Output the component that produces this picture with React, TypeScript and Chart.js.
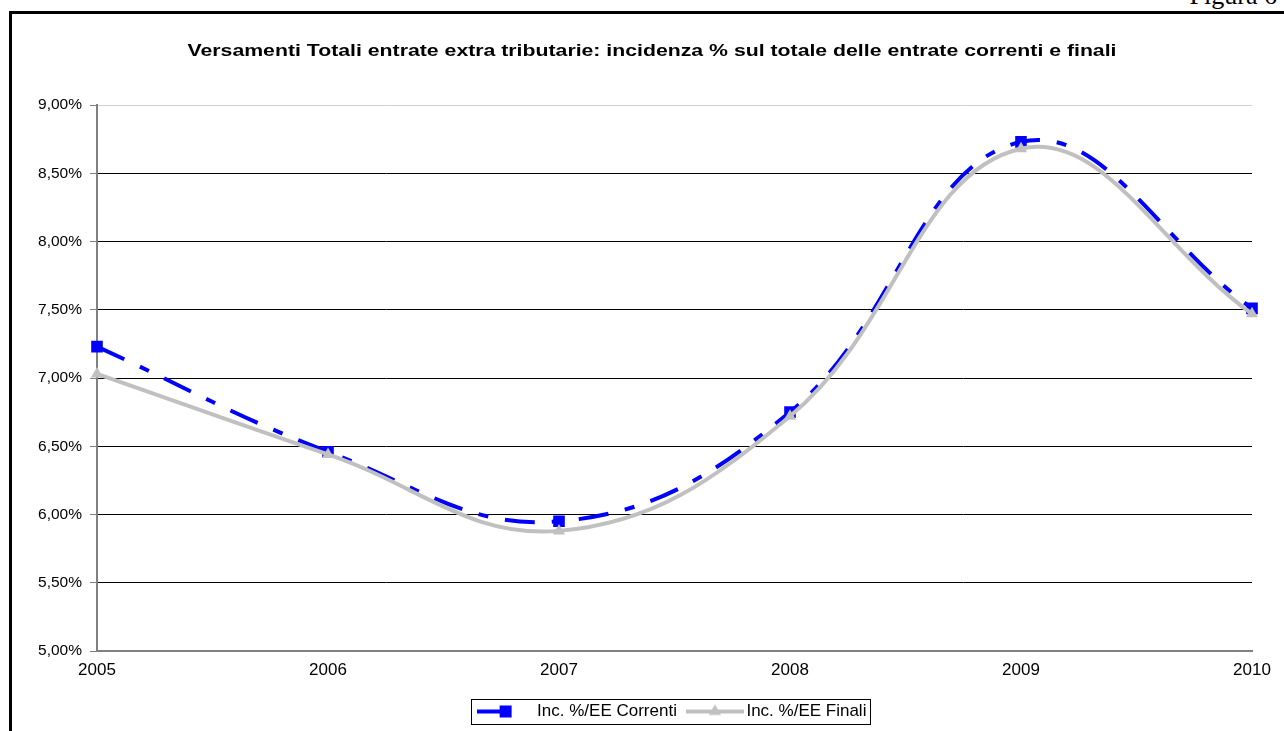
import React, { useEffect, useRef } from "react";
import { Chart, registerables } from "chart.js";

Chart.register(...registerables);

const TITLE = "Versamenti Totali entrate extra tributarie: incidenza % sul totale delle entrate correnti e finali";
const YEARS = ["2005", "2006", "2007", "2008", "2009", "2010"];
const SERIES_NAMES = ["Inc. %/EE Correnti", "Inc. %/EE Finali"];
const CORRENTI = [7.23, 6.46, 5.95, 6.75, 8.73, 7.51];
const FINALI = [7.03, 6.44, 5.88, 6.72, 8.68, 7.47];
const Y_MIN = 5;
const Y_MAX = 9;
const Y_STEP = 0.5;

const BLUE = "#0000FF";
const GRAY = "#C0C0C0";
const FONT = "'Liberation Sans', Arial, sans-serif";

function makeSample(kind: "rect" | "triangle"): HTMLCanvasElement {
  const c = document.createElement("canvas");
  c.width = 58;
  c.height = 16;
  const g = c.getContext("2d")!;
  const cy = 8;
  if (kind === "rect") {
    g.strokeStyle = BLUE;
    g.lineWidth = 4;
    g.beginPath();
    g.moveTo(0, cy);
    g.lineTo(29, cy);
    g.stroke();
    g.fillStyle = BLUE;
    g.fillRect(29 - 6, cy - 6, 12, 12);
  } else {
    g.strokeStyle = GRAY;
    g.lineWidth = 4;
    g.beginPath();
    g.moveTo(0, cy);
    g.lineTo(58, cy);
    g.stroke();
    g.fillStyle = GRAY;
    g.beginPath();
    g.moveTo(29, cy - 7);
    g.lineTo(29 + 6.1, cy + 3.5);
    g.lineTo(29 - 6.1, cy + 3.5);
    g.closePath();
    g.fill();
  }
  return c;
}

const titlePlugin = {
  id: "stretchTitle",
  afterDraw(chart: any) {
    const ctx = chart.ctx;
    ctx.save();
    ctx.font = `bold 17px ${FONT}`;
    ctx.fillStyle = "#000";
    ctx.textAlign = "center";
    ctx.textBaseline = "middle";
    const w = ctx.measureText(TITLE).width;
    ctx.translate(chart.width / 2, 37);
    ctx.scale(929 / w, 1);
    ctx.fillText(TITLE, 0, 0);
    ctx.restore();
  },
};

const legendBoxPlugin = {
  id: "legendBox",
  afterDraw(chart: any) {
    const hb = chart.legend && chart.legend.legendHitBoxes;
    if (!hb || !hb.length) return;
    const first = hb[0];
    const last = hb[hb.length - 1];
    const left = first.left - 12;
    const right = last.left + last.width + 3;
    const top = first.top - 4;
    const h = first.height + 8;
    const ctx = chart.ctx;
    ctx.save();
    ctx.strokeStyle = "#000";
    ctx.lineWidth = 1;
    ctx.strokeRect(Math.round(left) + 0.5, Math.round(top) + 0.5, Math.round(right - left), Math.round(h));
    ctx.restore();
  },
};

export default function App() {
  const ref = useRef<HTMLCanvasElement | null>(null);

  useEffect(() => {
    if (!ref.current) return;
    const samples = [makeSample("rect"), makeSample("triangle")];
    const chart = new Chart(ref.current, {
      type: "line",
      data: {
        labels: YEARS,
        datasets: [
          {
            label: SERIES_NAMES[0],
            data: CORRENTI,
            borderColor: BLUE,
            backgroundColor: BLUE,
            borderWidth: 4,
            borderDash: [30, 17, 10, 17],
            tension: 0.4,
            pointStyle: "rect",
            pointRadius: 8.2,
            pointBackgroundColor: BLUE,
            pointBorderColor: BLUE,
            pointBorderWidth: 0,
            order: 1,
          },
          {
            label: SERIES_NAMES[1],
            data: FINALI,
            borderColor: GRAY,
            backgroundColor: GRAY,
            borderWidth: 4,
            tension: 0.4,
            pointStyle: "triangle",
            pointRadius: 7,
            pointBackgroundColor: GRAY,
            pointBorderColor: GRAY,
            pointBorderWidth: 0,
            order: 0,
          },
        ],
      },
      options: {
        responsive: false,
        animation: false,
        events: [],
        layout: { padding: { top: 91, right: 40, bottom: 1, left: 0 } },
        plugins: {
          title: { display: false },
          tooltip: { enabled: false },
          legend: {
            display: true,
            position: "bottom",
            fullSize: false,
            labels: {
              usePointStyle: true,
              pointStyleWidth: 46,
              padding: 15,
              color: "#000",
              font: { family: FONT, size: 17 },
              generateLabels: () =>
                SERIES_NAMES.map((name, i) => ({
                  text: name,
                  pointStyle: samples[i],
                  fillStyle: "transparent",
                  strokeStyle: "transparent",
                  lineWidth: 0,
                  datasetIndex: i,
                  hidden: false,
                  fontColor: "#000",
                })),
            },
          },
        },
        scales: {
          x: {
            type: "category",
            offset: false,
            afterFit: (s: any) => {
              s.height = 37;
            },
            grid: { display: false, drawTicks: false },
            border: { display: true, color: "#808080", width: 2 },
            ticks: {
              color: "#000",
              padding: 9,
              maxRotation: 0,
              autoSkip: false,
              font: { family: FONT, size: 17 },
            },
          },
          y: {
            min: Y_MIN,
            max: Y_MAX,
            afterFit: (s: any) => {
              s.width = 85;
            },
            grid: {
              color: (c: any) => (c.tick && c.tick.value === Y_MAX ? "#d0d0d0" : "#000"),
              lineWidth: 1,
              drawTicks: true,
              tickLength: 7,
              tickColor: "#808080",
              tickWidth: 1,
            },
            border: { display: true, color: "#808080", width: 2 },
            ticks: {
              stepSize: Y_STEP,
              color: "#000",
              padding: 8,
              font: { family: FONT, size: 15.5 },
              callback: (v: any) => Number(v).toFixed(2).replace(".", ",") + "%",
            },
          },
        },
      },
      plugins: [titlePlugin, legendBoxPlugin],
    });
    return () => chart.destroy();
  }, []);

  return (
    <div
      style={{
        position: "absolute",
        left: 0,
        top: 0,
        width: 1284,
        height: 731,
        overflow: "hidden",
        background: "#fff",
      }}
    >
      <div
        style={{
          position: "absolute",
          right: 7,
          top: -17,
          fontFamily: "'Liberation Serif', 'Times New Roman', serif",
          fontSize: 26,
          lineHeight: "26px",
          whiteSpace: "nowrap",
          color: "#000",
        }}
      >
        Figura 6
      </div>
      <div
        style={{
          position: "absolute",
          left: 9,
          top: 11,
          width: 1300,
          height: 800,
          border: "3px solid #000",
          boxSizing: "border-box",
        }}
      />
      <canvas
        ref={ref}
        width={1280}
        height={717}
        style={{ position: "absolute", left: 12, top: 14, width: 1280, height: 717 }}
      />
    </div>
  );
}
